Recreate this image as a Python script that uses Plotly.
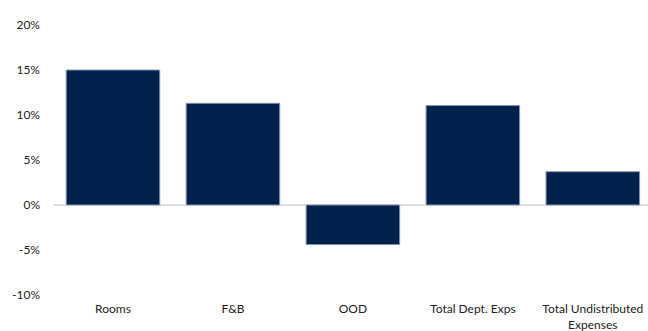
import plotly.graph_objects as go

categories = ["Rooms", "F&B", "OOD", "Total Dept. Exps", "Total Undistributed<br>Expenses"]
changes = [15.0, 11.3, -4.4, 11.05, 3.7]
y_ticks = [-10, -5, 0, 5, 10, 15, 20]
y_labels = ["-10%", "-5%", "0%", "5%", "10%", "15%", "20%"]

fig = go.Figure(
    go.Bar(
        x=list(range(len(categories))),
        y=changes,
        marker=dict(color="#00214b", line=dict(color="#8797b0", width=1)),
        width=0.78,
    )
)

fig.update_layout(
    width=648,
    height=331,
    margin=dict(l=53, r=0, t=25, b=36),
    paper_bgcolor="white",
    plot_bgcolor="white",
    font=dict(family="Lato, sans-serif", size=12, color="#222222"),
    showlegend=False,
)
fig.update_xaxes(
    range=[-0.5, 4.46],
    tickvals=list(range(len(categories))),
    ticktext=categories,
    showgrid=False,
    showline=False,
    zeroline=False,
    ticks="",
    ticklabelstandoff=5,
    tickfont=dict(size=12),
    automargin=False,
)
fig.update_yaxes(
    range=[-10, 20],
    tickvals=y_ticks,
    ticktext=y_labels,
    showgrid=False,
    showline=False,
    zeroline=True,
    zerolinecolor="#e0e0e0",
    zerolinewidth=1.5,
    ticks="",
    ticklabelstandoff=12,
    tickfont=dict(size=12),
    automargin=False,
)

fig.write_html("out.html")
